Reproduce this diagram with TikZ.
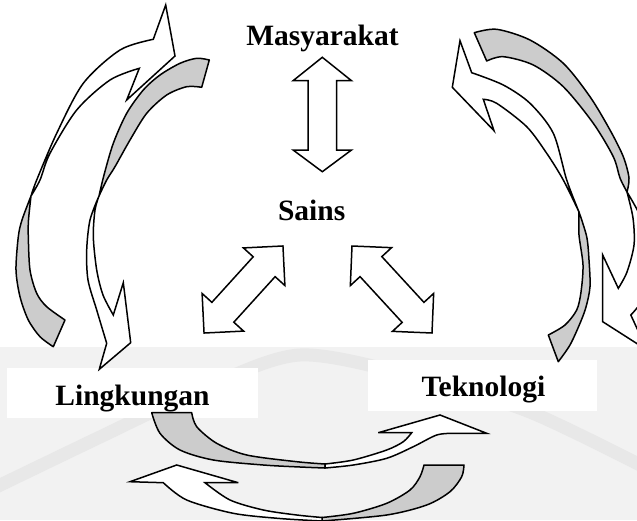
\documentclass[tikz,border=0pt]{standalone}
\usepackage{fontspec}
\setmainfont{Liberation Serif}
\tikzset{
  frontface/.style={draw=black, line width=1.5pt, fill=white, line join=miter, miter limit=6},
  backface/.style={draw=black, line width=1.5pt, fill=black!20, line join=round},
  lbl/.style={font=\fontsize{29.5}{32}\selectfont\bfseries, inner sep=0pt, anchor=base},
  whitebox/.style={fill=white, draw=none, inner sep=0pt},
  wmark/.style={draw=black!9, line width=13pt}
}
\begin{document}
\begin{tikzpicture}[x=1pt,y=-1pt]
\useasboundingbox (0,0) rectangle (637,520);
\begin{scope}
\clip (0,0) rectangle (637,520);
\fill[white] (0,0) rectangle (637,520);
\fill[black!5] (0,347) rectangle (637,520);
\begin{scope}
\clip (0,347) rectangle (637,520);
\draw[wmark] plot[smooth] coordinates {(-10,490) (100,437) (200,390) (300,355) (420,378) (530,412) (650,470)};
\end{scope}

% text boxes
\node[whitebox, minimum width=251pt, minimum height=50pt] (lingbox) at (132.5,393) {};
\node[whitebox, minimum width=229.3pt, minimum height=50.7pt] (tekbox) at (482.3,385.3) {};

% labels
\node[lbl] (mas) at (322.5,45) {Masyarakat};
\node[lbl] (sains) at (311.7,220) {Sains};
\node[lbl] (ling) at (132.5,405) {Lingkungan};
\node[lbl] (tek) at (483.5,396.7) {Teknologi};

% vertical double arrow
\path[frontface] (322.3,57.3) -- (351.5,80.7) -- (336.5,80.7) -- (336.5,150) -- (351.5,150) -- (322.3,171.7) -- (293.1,150) -- (308.1,150) -- (308.1,80.7) -- (293.1,80.7) -- cycle;

% diagonal double arrows
\begin{scope}[shift={(243.5,289.5)}, rotate=47.8]
\path[frontface] (58.75,0) -- (30.75,28) -- (30.75,14.8) -- (-30.75,14.8) -- (-30.75,28) -- (-58.75,0) -- (-30.75,-28) -- (-30.75,-14.8) -- (30.75,-14.8) -- (30.75,-28) -- cycle;
\end{scope}
\begin{scope}[shift={(392,289.5)}, rotate=-47.4]
\path[frontface] (59.1,0) -- (31.1,28) -- (31.1,14.8) -- (-31.1,14.8) -- (-31.1,28) -- (-59.1,0) -- (-31.1,-28) -- (-31.1,-14.8) -- (31.1,-14.8) -- (31.1,-28) -- cycle;
\end{scope}

% ---- left group ----
% A: tail bottom-left, head top
\path[backface] plot[smooth] coordinates {(31,196) (22,220) (18.3,236.7) (16,270) (20,296.7) (28.3,320) (40,336.7) (53.3,346.7)}
  -- plot[smooth] coordinates {(65,320) (46.7,306.7) (36.7,293.3) (30,270) (28.3,236.7) (28.5,220) (31,196)} -- cycle;
\path[frontface] (165.7,5) -- (175,56) -- (126.7,100) -- (139.3,68.3)
  -- plot[smooth] coordinates {(139.3,68.3) (110,80) (76.7,110) (50,153.3) (40,180) (31,196)}
  -- plot[smooth] coordinates {(31,196) (36.7,180) (56.7,133.3) (83.3,83.3) (120,50) (153.3,39.3)} -- cycle;
% B: tail top, head bottom
\path[backface] plot[smooth] coordinates {(209.3,60) (196.7,58.3) (180,63.3) (160,75) (143.3,90) (126.7,113.3) (113.3,143.3) (104,175) (99,196)}
  -- plot[smooth] coordinates {(99,196) (106.7,180) (115,166.7) (130,140) (146.7,113.3) (166.7,95) (186.7,86.7) (201.7,87.3)} -- cycle;
\path[frontface] plot[smooth] coordinates {(99,196) (90,220) (86.7,250) (88,280) (96.7,310) (106.7,343.3)}
  -- (99.3,369.3) -- (130.7,342.7) -- (123.3,282.7) -- (113.3,315)
  -- plot[smooth] coordinates {(113.3,315) (103,295) (96.7,270) (93.3,236.7) (95,210) (99,196)} -- cycle;

% ---- right group ----
% C: tail top-right, head bottom-right
\path[backface] plot[smooth] coordinates {(474.3,32.7) (496.7,29.3) (530,40) (563.3,63.3) (590,96.7) (610,130) (623.3,156.7) (629,178) (627,192)}
  -- plot[smooth] coordinates {(627,192) (620,178) (613.3,156.7) (593.3,123.3) (563.3,86.7) (533.3,65) (503.3,56.7) (486.7,61)} -- cycle;
\path[frontface] plot[smooth] coordinates {(627,192) (633,218) (634,245) (627,272) (618.3,288.3)}
  -- (602.7,255) -- (602.7,321.7) -- (647,350) -- (630.8,315)
  -- plot[smooth] coordinates {(630.8,315) (645,295) (650,255) (642,220) (627,192)} -- cycle;
% D: tail bottom, head top-left
\path[backface] plot[smooth] coordinates {(579,212) (579,235) (583,265) (581,292) (576.7,310) (565,325) (548.3,335)}
  -- plot[smooth] coordinates {(558.3,361.7) (570,345) (580,323.3) (586,307) (590,286.7) (589,260) (586.7,236.7) (579,212)} -- cycle;
\path[frontface] (460,40.7) -- (452.3,87.3) -- (494,130.7) -- (483.3,99.3)
  -- plot[smooth] coordinates {(483.3,99.3) (496.7,103.3) (526.7,126.7) (546.7,153.3) (563.3,180) (579,212)}
  -- plot[smooth] coordinates {(579,212) (566.7,180) (553.3,133.3) (530,103.3) (503.3,85) (471.7,72.7)} -- cycle;

% ---- bottom group ----
% E: tail under Lingkungan, head toward Teknologi
\path[backface] plot[smooth] coordinates {(151.7,412.7) (160,433.3) (180,450) (213.3,460) (263.3,465) (300,467) (325,468)}
  -- (325,464) -- plot[smooth] coordinates {(325,464) (296.7,461.7) (246.7,455) (216.7,443.3) (196.7,426.7) (191.7,412.7)} -- cycle;
\path[frontface] plot[smooth] coordinates {(325,464) (353.3,460) (386.7,450) (403.3,441.7) (411.7,432.7)}
  -- (378.3,432.7) -- (440,415) -- (486.7,433.3) -- (453.3,433.3)
  -- plot[smooth] coordinates {(453.3,433.3) (436.7,435) (413.3,446.7) (386.7,458.3) (353.3,465) (325,468)} -- cycle;
% F: tail under Teknologi, head toward Lingkungan
\path[backface] plot[smooth] coordinates {(424,465) (420,476.7) (410,490) (386.7,503.3) (353.3,513.3) (322,517.5)}
  -- (322,521) -- plot[smooth] coordinates {(322,521) (386.7,515) (426.7,505) (450,491.7) (461.7,476.7) (464,465)} -- cycle;
\path[frontface] plot[smooth] coordinates {(322,517.5) (296.7,515) (263.3,510) (230,500) (205,482.7)}
  -- (238.3,482.7) -- (176.7,465) -- (130,481.7) -- (163.3,482.7)
  -- plot[smooth] coordinates {(163.3,482.7) (186.7,500) (233.3,513.3) (280,518.5) (322,521)} -- cycle;
\end{scope}
\end{tikzpicture}
\end{document}
